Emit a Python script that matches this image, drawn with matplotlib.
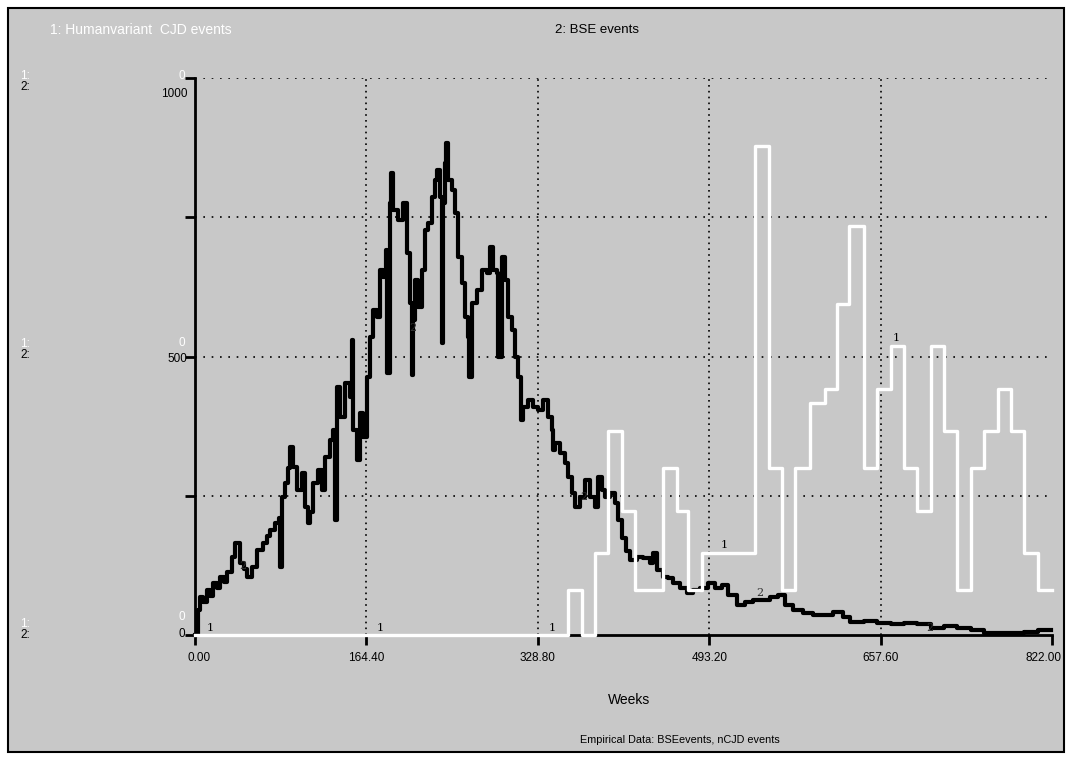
import matplotlib
matplotlib.use("Agg")
import matplotlib.pyplot as plt
from matplotlib.patches import Rectangle
from matplotlib.transforms import ScaledTranslation

# ---------------- data ----------------
# Series 1: human variant CJD events (white step line)
cjd_weeks = [0, 358, 370.8, 383.6, 396.4, 409.2, 422, 449.3, 462, 473.3, 486.1,
             537.4, 550.2, 563, 575.9, 590.3, 604.7, 616, 627, 641.6, 654.4,
             667.2, 680, 692.9, 705.7, 718.5, 731.3, 744.1, 757, 769.8, 782.6,
             795.4, 808.2, 822]
cjd_values = [0, 81, 0, 147, 366, 222, 81, 300, 222, 81, 147,
              878, 300, 81, 300, 416, 441, 594, 734, 300, 441,
              519, 300, 222, 519, 366, 81, 300, 366, 441, 366,
              147, 81, 81]

# Series 2: BSE events (black line)
bse_weeks = [0, 2.9, 4.8, 7.7, 11.5, 14.4, 17.3, 21.1, 24.0, 27.8, 30.7, 35.5,
             38.4, 43.2, 47.0, 49.9, 54.7, 59.5, 65.2, 69.1, 71.9, 76.7, 80.6,
             81.5, 83.4, 86.3, 89.2, 91.1, 94.0, 97.8, 102.6, 105.5, 108.4,
             110.3, 113.2, 118.0, 121.8, 124.7, 129.5, 132.4, 134.3, 136.2,
             139.1, 143.9, 148.7, 150.6, 151.5, 155.4, 158.3, 161.1, 165.0,
             167.9, 170.7, 174.6, 177.5, 180.3, 183.2, 184.2, 187.0, 188.0,
             189.9, 194.7, 199.5, 203.3, 206.2, 208.1, 209.1, 211.0, 213.9,
             217.7, 220.6, 223.5, 227.3, 230.2, 232.1, 235.0, 236.9, 237.9,
             239.8, 240.7, 242.7, 246.5, 249.4, 252.3, 256.1, 259.0, 261.9,
             262.8, 265.7, 270.5, 275.3, 280.1, 283.0, 285.8, 289.7, 290.6,
             294.5, 297.4, 300.2, 304.1, 306.9, 309.8, 312.7, 314.6, 319.4,
             324.2, 329.0, 333.8, 338.6, 342.4, 343.4, 345.3, 350.1, 354.9,
             357.8, 361.6, 364.5, 369.3, 374.1, 378.9, 383.7, 386.5, 390.4,
             393.3, 398.1, 402.9, 405.7, 409.6, 413.4, 417.2, 424.0, 429.7,
             436.4, 439.3, 443.1, 448.9, 453.7, 458.5, 465.2, 471.9, 477.7,
             484.4, 492.1, 498.8, 505.5, 511.2, 519.9, 527.6, 535.2, 544.8,
             551.5, 559.2, 565.9, 573.6, 583.2, 592.8, 602.4, 612.0, 621.6,
             628.3, 641.6, 654.4, 667.2, 680.1, 692.9, 705.7, 718.5, 731.3,
             744.2, 757.0, 769.8, 782.6, 795.4, 808.2, 821.0]
bse_values = [0, 45, 68, 60, 81, 70, 93, 85, 104, 95, 113, 140,
              165, 129, 118, 104, 122, 152, 165, 178, 188, 201, 210,
              122, 248, 273, 300, 338, 302, 260, 291, 230, 201,
              220, 273, 296, 260, 320, 350, 368, 206, 445,
              391, 452, 427, 530, 368, 314, 399, 355, 463,
              535, 583, 571, 655, 643, 691, 470, 776, 829,
              763, 745, 776, 686, 596, 467, 566, 637, 589,
              655, 727, 740, 786, 817, 835, 786, 524, 776,
              847, 883, 817, 799, 758, 679, 632, 571, 535,
              463, 596, 619, 655, 650, 697, 655, 650, 499,
              679, 637, 571, 548, 499, 463, 386, 409, 422,
              409, 404, 422, 391, 368, 332, 345, 327, 309,
              284, 255, 230, 248, 278, 248, 230, 284, 260,
              248, 255, 237, 206, 175, 150, 135, 140, 138,
              129, 147, 117, 104, 102, 93, 84, 75, 81,
              84, 93, 84, 90, 72, 54, 59, 63, 63,
              68, 72, 54, 45, 39, 36, 36, 41, 32,
              23, 25, 22, 19, 22, 19, 12, 16, 12,
              9, 3, 3, 3, 6, 9, 9]

x_ticks = [0.0, 164.4, 328.8, 493.2, 657.6, 822.0]
x_tick_labels = ["0.00", "164.40", "328.80", "493.20", "657.60", "822.00"]
y_ticks = [0, 250, 500, 750, 1000]

# series marker labels (week, value)
lab1_weeks = [14.4, 177.5, 342.4, 508.0, 673.0]
lab1_values = [0, 0, 0, 149, 520]
lab2_weeks = [46.0, 209.0, 373.0, 542.0, 705.0]
lab2_values = [124, 551, 248, 75, 12]

# ---------------- figure ----------------
BG = "#c8c8c8"
FONT = ["Liberation Sans Narrow", "Liberation Sans", "DejaVu Sans"]
plt.rcParams["font.family"] = FONT

W, H = 1070, 771
fig = plt.figure(figsize=(W / 100, H / 100), dpi=100)
fig.patch.set_facecolor("white")

# gray panel with border
fig.patches.append(Rectangle((8 / W, 1 - 752 / H), (1064 - 8) / W, (752 - 8) / H,
                             transform=fig.transFigure, facecolor=BG,
                             edgecolor="black", linewidth=1.5, zorder=-10))

ax = fig.add_axes([195 / W, 1 - 635 / H, (1052 - 195) / W, (635 - 78) / H])
ax.set_zorder(1)
ax.set_facecolor(BG)
ax.set_xlim(0, 822)
ax.set_ylim(0, 1000)

for s in ["top", "right"]:
    ax.spines[s].set_visible(False)
for s in ["left", "bottom"]:
    ax.spines[s].set_linewidth(2)
    ax.spines[s].set_color("black")

# grid
for yv in y_ticks[1:]:
    ax.axhline(yv, color="black", linestyle=(0, (1, 4)), linewidth=1.2, zorder=1)
for xv in x_ticks[1:-1]:
    ax.axvline(xv, color="black", linestyle=(0, (1, 2.5)), linewidth=1.2, zorder=1)

ax.set_xticks(x_ticks)
ax.set_xticklabels(x_tick_labels, fontsize=8.5)
ax.set_yticks(y_ticks)
ax.set_yticklabels([])
ax.tick_params(axis="both", direction="out", length=7, width=2, color="black")
ax.tick_params(axis="x", pad=5)

xlabels = ax.get_xticklabels()
xlabels[0].set_transform(xlabels[0].get_transform() + ScaledTranslation(4 / 100, 0, fig.dpi_scale_trans))
xlabels[-1].set_transform(xlabels[-1].get_transform() + ScaledTranslation(-9 / 100, 0, fig.dpi_scale_trans))

# series
ax.step(bse_weeks, bse_values, where="post", color="black", linewidth=3.0,
        zorder=3, clip_on=False)
ax.step(cjd_weeks, cjd_values, where="post", color="white", linewidth=2.4,
        zorder=4, clip_on=False)

for xw, yv in zip(lab1_weeks, lab1_values):
    ax.text(xw, yv + 4, "1", fontsize=8, color="black", ha="center", va="bottom",
            zorder=5, family=["DejaVu Serif"])
for xw, yv in zip(lab2_weeks, lab2_values):
    ax.text(xw, yv, "2", fontsize=8, color="#333333", ha="center", va="center",
            zorder=5, family=["DejaVu Serif"])

# y labels (left scale)
def fy(py):
    return 1 - py / H

fs = 8.5
fig.text(185 / W, fy(76), "0", color="white", fontsize=fs, ha="right", va="center")
fig.text(188 / W, fy(94), "1000", color="black", fontsize=fs, ha="right", va="center")
fig.text(185 / W, fy(343), "0", color="white", fontsize=fs, ha="right", va="center")
fig.text(187 / W, fy(359), "500", color="black", fontsize=fs, ha="right", va="center")
fig.text(185 / W, fy(617), "0", color="white", fontsize=fs, ha="right", va="center")
fig.text(185 / W, fy(634), "0", color="black", fontsize=fs, ha="right", va="center")

for py in (76, 344, 624):
    fig.text(20 / W, fy(py), "1:", color="white", fontsize=fs, ha="left", va="center")
    fig.text(20 / W, fy(py + 11), "2:", color="black", fontsize=fs, ha="left", va="center")

# header
fig.text(50 / W, fy(30), "1: Humanvariant  CJD events", color="white", fontsize=10,
         ha="left", va="center")
fig.text(555 / W, fy(30), "2: BSE events", color="black", fontsize=9.5,
         ha="left", va="center")

# footer
fig.text(629 / W, fy(700), "Weeks", color="black", fontsize=10, ha="center", va="center")
fig.text(680 / W, fy(740), "Empirical Data: BSEevents, nCJD events", color="black",
         fontsize=7.8, ha="center", va="center")

fig.savefig("out.png", dpi=100, facecolor=fig.get_facecolor())
